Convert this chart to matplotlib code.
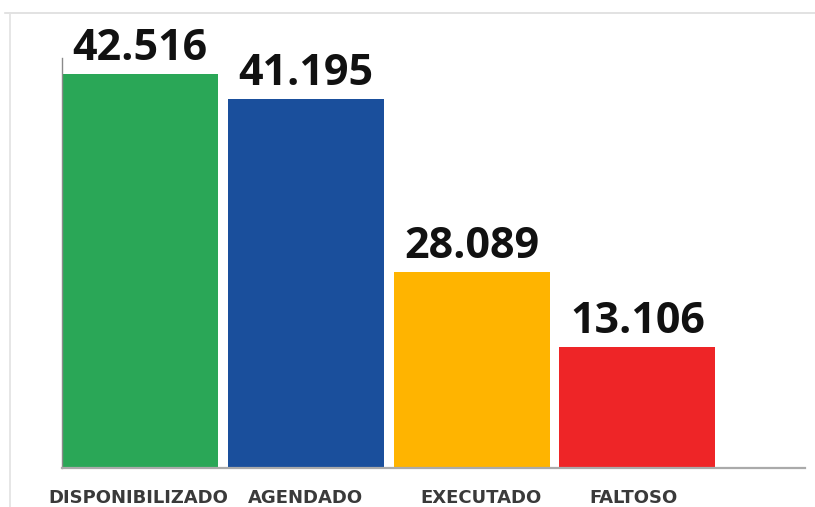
import matplotlib
matplotlib.use("Agg")
import matplotlib.pyplot as plt
from matplotlib.lines import Line2D
from matplotlib.transforms import ScaledTranslation

categories = ["DISPONIBILIZADO", "AGENDADO", "EXECUTADO", "FALTOSO"]
values = [42516, 41195, 28089, 13106]
# bar heights as drawn in the picture (not proportional to the labels)
drawn_heights = [42516, 39790, 21180, 13090]
colors = ["#2aa757", "#1a4f9c", "#ffb400", "#ee2527"]

def fmt(v):
    return f"{v:,}".replace(",", ".")

fig = plt.figure(figsize=(8.15, 5.07), dpi=100)
W, H = 815, 507
# axes placed in pixel terms: left 62, right 805, baseline 468, top 58
ax = fig.add_axes([62/W, (H-468)/H, (805-62)/W, (468-58)/H])

x = range(len(categories))
ax.bar(x, drawn_heights, width=0.94, color=colors, zorder=2)

for i, (h, v) in enumerate(zip(drawn_heights, values)):
    ax.annotate(fmt(v), (i, h), xytext=(0, 3), textcoords="offset points",
                ha="center", va="bottom", fontsize=31, fontweight="bold",
                family="Open Sans", color="#111111", annotation_clip=False)

ax.set_xlim(-0.4705, 4.011)
ax.set_ylim(0, 44240)
ax.set_yticks([])
ax.set_xticks(list(x))
ax.set_xticklabels(categories, fontsize=13, fontweight="bold", color="#3a3a3a")
ax.tick_params(axis="x", length=0, pad=15)

# labels in the picture are not exactly centred under the bars
nudge = [-2, 0, 9, -4]
for lab, dx in zip(ax.get_xticklabels(), nudge):
    lab.set_transform(lab.get_transform() + ScaledTranslation(dx/100, 0, fig.dpi_scale_trans))

for s in ["top", "right"]:
    ax.spines[s].set_visible(False)
ax.spines["left"].set_color("#8a8a8a")
ax.spines["left"].set_linewidth(1.0)
ax.spines["bottom"].set_color("#aaaaaa")
ax.spines["bottom"].set_linewidth(1.6)

# light frame around the chart card
fig.add_artist(Line2D([5/W, 1], [1-13/H, 1-13/H], color="#dddddd", lw=1.2))
fig.add_artist(Line2D([10/W, 10/W], [0, 1-13/H], color="#e2e2e2", lw=1.2))

fig.savefig("out.png", dpi=100)
